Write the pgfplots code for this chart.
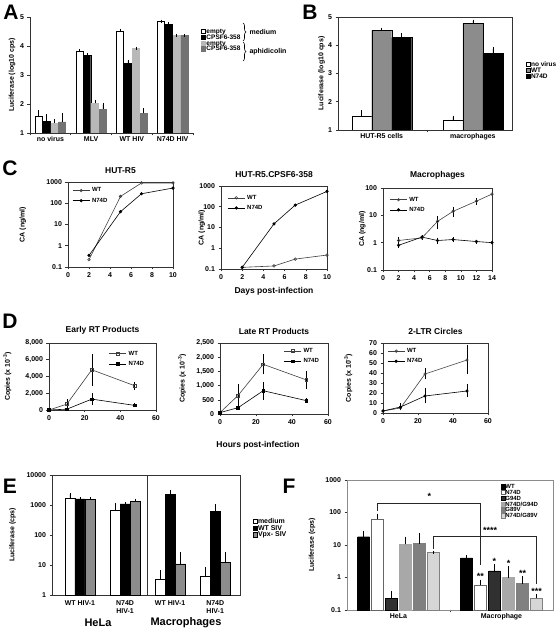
\documentclass[border=0pt]{standalone}
\usepackage{fontspec}
\setmainfont{Liberation Sans}
\usepackage{pgfplots}
\pgfplotsset{compat=1.18}
\usetikzlibrary{decorations.pathreplacing}
\newcommand{\fs}[1]{\fontsize{#1}{#1}\selectfont\bfseries}
\newcommand{\fsE}{\fontsize{7}{8}\selectfont\bfseries}
\definecolor{lgA}{gray}{0.72}
\definecolor{dgA}{gray}{0.45}
\definecolor{gB}{gray}{0.55}
\definecolor{gE}{gray}{0.55}
\definecolor{fG94}{gray}{0.19}
\definecolor{fNG94}{gray}{0.66}
\definecolor{fG89}{gray}{0.5}
\definecolor{fNG89}{gray}{0.84}
\pgfplotsset{
  base/.style={scale only axis, anchor=south west,
    font=\fs{7}, tick label style={font=\fs{7}}, label style={font=\fs{7}},
    title style={font=\fs{8.5}, yshift=-1pt},
    /pgf/number format/assume math mode=true,
    tick align=outside, tick pos=left, major tick length=2.5pt,
    axis line style={line width=0.6pt, black!80},
    every tick/.style={black!80, line width=0.5pt},
    legend cell align=left},
  barlegend/.style={legend image code/.code={\draw[##1, line width=0.4pt] (0pt,-2.2pt) rectangle (4.4pt,2.2pt);}},
  ebar/.style={error bars/y dir=plus, error bars/y explicit,
    error bars/error bar style={line width=0.5pt, black},
    error bars/error mark options={black, mark size=1.5pt, line width=0.5pt}},
  wt/.style={black!75, line width=0.6pt, mark=o, mark size=1.3pt, mark options={solid, fill=white}},
  mut/.style={black, line width=0.6pt, mark=*, mark size=1.3pt},
  wtsq/.style={black!75, line width=0.6pt, mark=square, mark size=1.4pt, mark options={solid, fill=white}},
  mutsq/.style={black, line width=0.6pt, mark=square*, mark size=1.3pt},
  clegend/.style={legend style={at={#1}, anchor=north west, draw=none, fill=none, font=\fs{6}, row sep=0.5pt, inner sep=1pt}},
}
\begin{document}
\begin{tikzpicture}
\path[use as bounding box] (0,0) rectangle (560pt,638pt);

% ---------------- A ----------------
\begin{axis}[base, ebar, at={(30pt,505pt)}, width=163pt, height=116pt,
  axis x line*=bottom, axis y line*=left,
  ymin=1, ymax=5, ytick={1,2,3,4,5},
  xmin=-0.5, xmax=3.5,
  xtick={-0.5,0.5,1.5,2.5,3.5}, xticklabels={},
  extra x ticks={0,1,2,3}, extra x tick labels={no virus,MLV,WT HIV,N74D HIV},
  extra x tick style={major tick length=0pt},
  ybar=0.8pt, bar width=7pt, barlegend,
  ylabel={Luciferase (log10 cps)},
  ylabel style={at={(axis description cs:-0.11,0.5)}, anchor=center},
  legend style={at={(1.03,0.925)}, anchor=north west, draw=none, fill=none, font=\fs{6.5}, row sep=-0.6pt, nodes={inner sep=0.6pt, text height=4.8pt, text depth=0.5pt}}]
\addplot[fill=white, draw=black] coordinates {(0,1.57) +- (0,0.17) (1,3.82) +- (0,0.02) (2,4.52) +- (0,0.02) (3,4.84) +- (0,0.02)};
\addplot[fill=black, draw=black] coordinates {(0,1.40) +- (0,0.2) (1,3.67) +- (0,0.03) (2,3.41) +- (0,0.06) (3,4.75) +- (0,0.03)};
\addplot[fill=lgA, draw=lgA] coordinates {(0,1.34) +- (0,0.08) (1,2.02) +- (0,0.06) (2,3.92) +- (0,0.01) (3,4.36) +- (0,0.01)};
\addplot[fill=dgA, draw=dgA] coordinates {(0,1.38) +- (0,0.25) (1,1.82) +- (0,0.17) (2,1.68) +- (0,0.12) (3,4.36) +- (0,0.01)};
\legend{empty,CPSF6-358,empty,CPSF6-358}
\end{axis}
\draw[decorate, decoration={brace, amplitude=3pt}, line width=0.6pt] (243pt,615pt) -- (243pt,597pt);
\draw[decorate, decoration={brace, amplitude=3pt}, line width=0.6pt] (243pt,596pt) -- (243pt,577pt);
\node[font=\fs{7}, anchor=west] at (246pt,605.5pt) {medium};
\node[font=\fs{7}, anchor=west] at (246pt,586.5pt) {aphidicolin};

% ---------------- B ----------------
\begin{axis}[base, ebar, at={(338pt,508pt)}, width=174pt, height=113pt,
  ymin=1, ymax=5, ytick={1,2,3,4,5},
  xmin=-0.48, xmax=1.43,
  xtick={0.5}, xticklabels={},
  extra x ticks={0,1}, extra x tick labels={HUT-R5 cells,macrophages},
  extra x tick style={major tick length=0pt},
  ybar=0pt, bar width=20pt, barlegend,
  ylabel={Luciferase (log10 cps)},
  ylabel style={at={(axis description cs:-0.095,0.5)}, anchor=center},
  legend style={at={(1.06,0.63)}, anchor=north west, draw=none, fill=none, font=\fs{6.5}, row sep=-0.6pt, nodes={inner sep=0.6pt, text height=4.8pt, text depth=0.5pt}}]
\addplot[fill=white, draw=black] coordinates {(0,1.48) +- (0,0.17) (1,1.36) +- (0,0.1)};
\addplot[fill=gB, draw=black] coordinates {(0,4.53) +- (0,0.03) (1,4.78) +- (0,0.07)};
\addplot[fill=black, draw=black] coordinates {(0,4.27) +- (0,0.1) (1,3.72) +- (0,0.15)};
\legend{no virus,WT,N74D}
\end{axis}

% ---------------- C1 ----------------
\begin{axis}[base, at={(68pt,371pt)}, width=105pt, height=85pt,
  ymode=log, ymin=0.1, ymax=1000, ytick={0.1,1,10,100,1000}, yticklabels={0.1,1,10,100,1000}, yminorticks=false,
  xmin=0, xmax=10, xtick={0,2,...,10},
  title={HUT-R5}, ylabel={CA (ng/ml)},
  ylabel style={at={(axis description cs:-0.43,0.5)}, anchor=center},
  clegend={(0.03,0.97)}]
\addplot[wt] coordinates {(2,0.22) (5,210) (7,900) (10,900)};
\addplot[mut] coordinates {(2,0.35) (5,40) (7,280) (10,520)};
\legend{WT,N74D}
\end{axis}

% ---------------- C2 ----------------
\begin{axis}[base, at={(221pt,369pt)}, width=106pt, height=83pt,
  ymode=log, ymin=0.1, ymax=1000, ytick={0.1,1,10,100,1000}, yticklabels={0.1,1,10,100,1000}, yminorticks=false,
  xmin=0, xmax=10, xtick={0,2,...,10},
  title={HUT-R5.CPSF6-358}, ylabel={CA (ng/ml)},
  ylabel style={at={(axis description cs:-0.18,0.5)}, anchor=center},
  xlabel={Days post-infection}, xlabel style={font=\fs{8.5}},
  clegend={(0.05,0.93)}]
\addplot[wt] coordinates {(2,0.12) (5,0.14) (7,0.3) (10,0.47)};
\addplot[mut] coordinates {(2,0.12) (5,15) (7,120) (10,550)};
\legend{WT,N74D}
\end{axis}

% ---------------- C3 ----------------
\begin{axis}[base, ebar, at={(383pt,368pt)}, width=109pt, height=82pt,
  error bars/y dir=both,
  ymode=log, ymin=0.1, ymax=100, ytick={0.1,1,10,100}, yticklabels={0.1,1,10,100}, yminorticks=false,
  xmin=0, xmax=14, xtick={0,2,...,14},
  title={Macrophages}, ylabel={CA (ng/ml)},
  ylabel style={at={(axis description cs:-0.19,0.5)}, anchor=center},
  clegend={(0.05,0.93)}]
\addplot[wt] coordinates {(2,1.2) +- (0,0.25) (5,1.5) +- (0,0.1) (7,6) +- (0,2.5) (9,14) +- (0,4) (12,33) +- (0,5) (14,60) +- (0,6)};
\addplot[mut] coordinates {(2,0.8) +- (0,0.05) (5,1.6) +- (0,0.1) (7,1.2) +- (0,0.15) (9,1.3) +- (0,0.1) (12,1.1) +- (0,0.05) (14,1.0) +- (0,0.1)};
\legend{WT,N74D}
\end{axis}

% ---------------- D1 ----------------
\begin{axis}[base, ebar, at={(49pt,228pt)}, width=107pt, height=67pt,
  error bars/y dir=both,
  ymin=0, ymax=8000, ytick={0,2000,...,8000}, /pgf/number format/1000 sep={,},
  xmin=0, xmax=60, xtick={0,20,40,60},
  title={Early RT Products}, ylabel={Copies (x 10\textsuperscript{-3})},
  ylabel style={at={(axis description cs:-0.39,0.5)}, anchor=center},
  clegend={(0.55,0.93)}]
\addplot[wtsq] coordinates {(0,0) +- (0,0) (10,700) +- (0,450) (24,4800) +- (0,1700) (48,2900) +- (0,300)};
\addplot[mutsq] coordinates {(0,0) +- (0,0) (10,100) +- (0,60) (24,1300) +- (0,500) (48,550) +- (0,60)};
\legend{WT,N74D}
\end{axis}

% ---------------- D2 ----------------
\begin{axis}[base, ebar, at={(220pt,224pt)}, width=108pt, height=71pt,
  error bars/y dir=both,
  ymin=0, ymax=2500, ytick={0,500,...,2500}, /pgf/number format/1000 sep={,},
  xmin=0, xmax=60, xtick={0,20,40,60},
  title={Late RT Products}, ylabel={Copies (x 10\textsuperscript{-3})},
  ylabel style={at={(axis description cs:-0.35,0.5)}, anchor=center},
  clegend={(0.58,0.97)}]
\addplot[wtsq] coordinates {(0,50) +- (0,0) (10,650) +- (0,350) (24,1750) +- (0,300) (48,1200) +- (0,250)};
\addplot[mutsq] coordinates {(0,50) +- (0,0) (10,220) +- (0,30) (24,820) +- (0,270) (48,470) +- (0,30)};
\legend{WT,N74D}
\end{axis}

% ---------------- D3 ----------------
\begin{axis}[base, ebar, at={(383pt,225pt)}, width=105pt, height=70pt,
  error bars/y dir=both,
  ymin=0, ymax=70, ytick={0,10,...,70},
  xmin=0, xmax=60, xtick={0,20,40,60},
  title={2-LTR Circles}, ylabel={Copies (x 10\textsuperscript{-3})},
  ylabel style={at={(axis description cs:-0.33,0.5)}, anchor=center},
  clegend={(0.03,0.97)}]
\addplot[wt] coordinates {(0,2) +- (0,0) (10,5) +- (0,1) (24,39) +- (0,4) (48,53) +- (0,13)};
\addplot[mut] coordinates {(0,2) +- (0,0) (10,6) +- (0,2) (24,17) +- (0,6) (48,22) +- (0,5)};
\legend{WT,N74D}
\end{axis}
\node[font=\fs{8.5}] at (258pt,193pt) {Hours post-infection};

% ---------------- E ----------------
\begin{axis}[base, ebar, at={(52pt,43pt)}, width=188pt, height=120pt,
  ymode=log, log origin=infty, ymin=1, ymax=10000, ytick={1,10,100,1000,10000}, yticklabels={1,10,100,1000,10000}, yminorticks=false,
  xmin=-0.62, xmax=3.55, xtick={0,1,2,3}, major x tick style={draw=none},
  xticklabels={WT HIV-1,{N74D\\HIV-1},WT HIV-1,{N74D\\HIV-1}},
  xticklabel style={align=center, font=\fsE},
  ybar=0pt, bar width=10pt, clip=false, barlegend,
  ylabel={Luciferase (cps)},
  ylabel style={at={(axis description cs:-0.21,0.5)}, anchor=center},
  legend style={at={(1.05,0.66)}, anchor=north west, draw=none, fill=none, font=\fs{7}, row sep=0pt, nodes={inner sep=0.6pt, text height=5pt, text depth=0.5pt}}]
\addplot[fill=white, draw=black] coordinates {(0,1750) +- (0,500) (1,650) +- (0,350) (2,3.4) +- (0,2.6) (3,4.1) +- (0,3.3)};
\addplot[fill=black, draw=black] coordinates {(0,1600) +- (0,70) (1,1100) +- (0,40) (2,2260) +- (0,640) (3,630) +- (0,300)};
\addplot[fill=gE, draw=black] coordinates {(0,1540) +- (0,60) (1,1330) +- (0,60) (2,10.8) +- (0,13.7) (3,12.3) +- (0,12.2)};
\draw[black!80, line width=0.6pt] (axis cs:1.49,1) -- (axis cs:1.49,10000);
\legend{medium,WT SIV,Vpx- SIV}
\end{axis}
\node[font=\fs{11}] at (98pt,15pt) {HeLa};
\node[font=\fs{11}] at (186pt,15pt) {Macrophages};

% ---------------- F ----------------
\begin{axis}[base, ebar, at={(347pt,28pt)}, width=206pt, height=130pt,
  ymode=log, log origin=infty, ymin=0.1, ymax=1000, ytick={0.1,1,10,100,1000}, yticklabels={0.1,1,10,100,1000}, yminorticks=false,
  xmin=-0.5, xmax=1.5, xtick={0.5}, xticklabels={},
  extra x ticks={0,1}, extra x tick labels={HeLa,Macrophage},
  extra x tick style={major tick length=0pt},
  axis line style={black!45},
  ybar=2pt, bar width=12pt, clip=false, barlegend,
  ylabel={Luciferase (cps)},
  ylabel style={at={(axis description cs:-0.17,0.5)}, anchor=center},
  legend style={at={(0.73,0.985)}, anchor=north west, draw=none, fill=none, font=\fs{6}, row sep=0.9pt, nodes={inner sep=0pt, text height=4.5pt, text depth=0.4pt}}]
\addplot[fill=black, draw=black] coordinates {(0,18) +- (0,7) (1,4.0) +- (0,0.3)};
\addplot[fill=white, draw=black!60] coordinates {(0,62) +- (0,20) (1,0.58) +- (0,0.2)};
\addplot[fill=fG94, draw=black] coordinates {(0,0.23) +- (0,0.12) (1,1.6) +- (0,0.7)};
\addplot[fill=fNG94, draw=fNG94] coordinates {(0,10.4) +- (0,6) (1,1.0) +- (0,1.0)};
\addplot[fill=fG89, draw=fG89] coordinates {(0,11) +- (0,10) (1,0.65) +- (0,0.33)};
\addplot[fill=fNG89, draw=black!50] coordinates {(0,5.9) +- (0,0.1) (1,0.23) +- (0,0.04)};
\legend{WT,N74D,G94D,N74D/G94D,G89V,N74D/G89V}
\draw[line width=0.8pt, black!85] (axis cs:-0.204,115) -- (axis cs:-0.204,190) -- (axis cs:0.796,190) -- (axis cs:0.796,2.4);
\node[font=\fs{9}, anchor=south] at (axis cs:0.3,190) {*};
\draw[line width=0.8pt, black!85] (axis cs:0.34,7.5) -- (axis cs:0.34,18) -- (axis cs:1.34,18) -- (axis cs:1.34,0.65);
\node[font=\fs{9}, anchor=south] at (axis cs:0.89,18) {****};
\node[font=\fs{9}, anchor=south, inner sep=0.5pt] at (axis cs:0.796,0.82) {**};
\node[font=\fs{9}, anchor=south, inner sep=0.5pt] at (axis cs:0.932,2.35) {*};
\node[font=\fs{9}, anchor=south, inner sep=0.5pt] at (axis cs:1.068,2.05) {*};
\node[font=\fs{9}, anchor=south, inner sep=0.5pt] at (axis cs:1.204,1.0) {**};
\node[font=\fs{9}, anchor=south, inner sep=0.5pt] at (axis cs:1.34,0.28) {***};
\end{axis}

% ---------------- panel letters ----------------
\node[font=\fs{21}] at (11pt,626pt) {A};
\node[font=\fs{21}] at (310pt,626pt) {B};
\node[font=\fs{21}] at (10pt,470pt) {C};
\node[font=\fs{21}] at (10pt,317pt) {D};
\node[font=\fs{21}] at (10pt,152pt) {E};
\node[font=\fs{21}] at (289pt,152pt) {F};
\end{tikzpicture}
\end{document}
